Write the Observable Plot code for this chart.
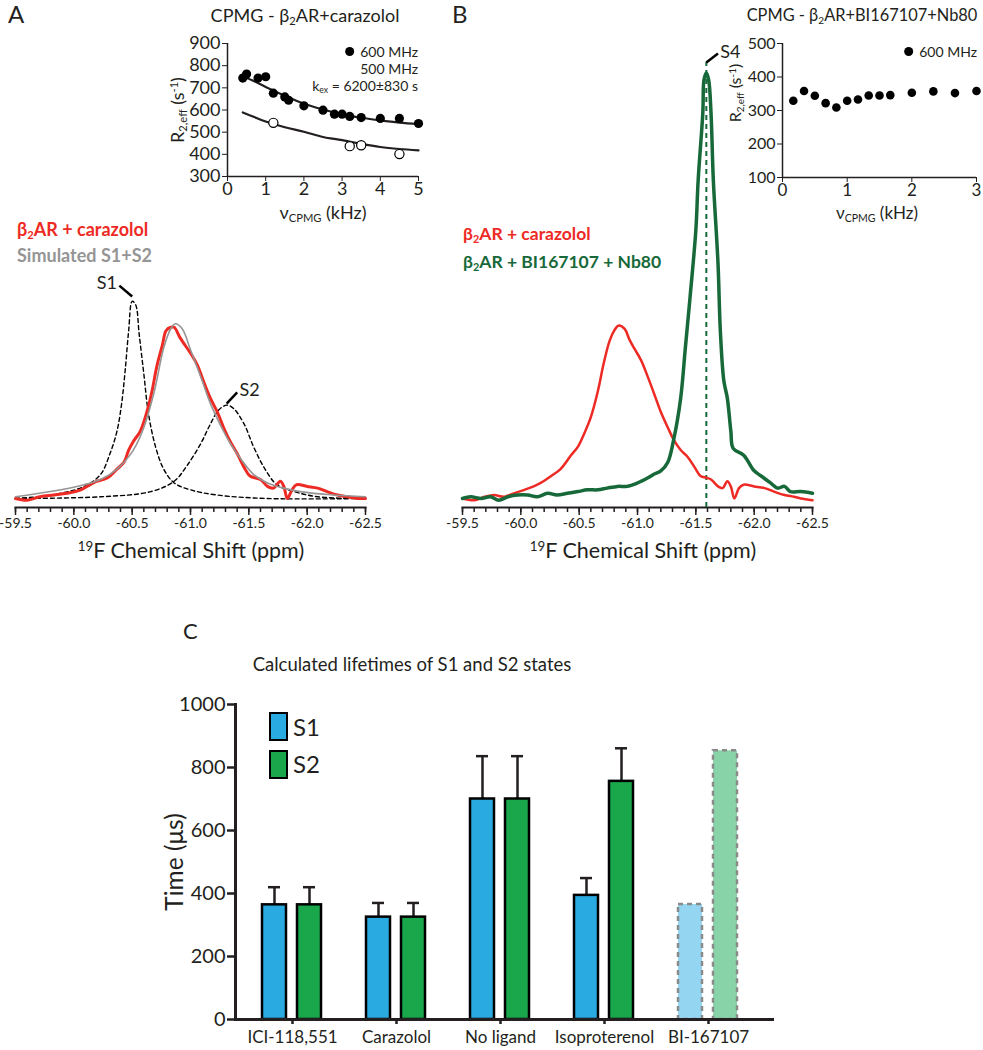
<!DOCTYPE html>
<html><head><meta charset="utf-8">
<script src="https://cdn.jsdelivr.net/npm/d3@7"></script>
<script src="https://cdn.jsdelivr.net/npm/@observablehq/plot@0.6"></script>
<style>
body{margin:0;background:#fff;font-family:Lato,"Open Sans",sans-serif;color:#231f20;}
#fig{position:relative;width:983px;height:1050px;overflow:hidden;background:#fff;}
.abs{position:absolute;white-space:nowrap;line-height:1;}
.box{position:absolute;}
.box svg{overflow:visible;}
sub{font-size:.62em;position:relative;top:.28em;vertical-align:baseline;}
sup{font-size:.62em;position:relative;top:-.5em;vertical-align:baseline;}
.dot{display:inline-block;width:9px;height:9px;border-radius:50%;background:#000;margin-right:6px;vertical-align:1px;}
.sq{position:absolute;border:2.5px solid #000;box-sizing:border-box;}
</style></head><body><div id="fig"></div>
<script>
// ---------- Panel A inset: CPMG beta2AR + carazolol ----------
const cpmgA600Nu = [0.4,0.5,0.8,1.0,1.2,1.5,1.6,2.0,2.5,2.8,3.0,3.2,3.5,4.0,4.5,5.0];
const cpmgA600R2 = [744,762,744,750,676,659,644,619,599,581,581,571,566,562,562,539];
const cpmgA500Nu = [1.2,3.2,3.5,4.5];
const cpmgA500R2 = [542,437,441,401];
const fitA600Nu = [0.4,0.7,1.0,1.5,2.0,2.5,3.0,3.5,4.0,4.5,5.0];
const fitA600R2 = [751,730,704,664,628,602,580,565,553,543,536];
const fitA500Nu = [0.4,0.7,1.0,1.5,2.0,2.5,3.0,3.5,4.0,4.5,5.0];
const fitA500R2 = [589,568,548,522,502,478,464,447,433,424,418];
const insetAxTicks = [0,1,2,3,4,5];
const insetAyTicks = [300,400,500,600,700,800,900];

// ---------- Panel B inset: CPMG beta2AR + BI167107 + Nb80 ----------
const cpmgBNu = [0.167,0.333,0.5,0.667,0.833,1.0,1.167,1.333,1.5,1.667,2.0,2.333,2.667,3.0];
const cpmgBR2 = [329,358,344,322,309,329,333,345,345,346,353,357,352,358];
const insetBxTicks = [0,1,2,3];
const insetByTicks = [100,200,300,400,500];

// ---------- Panel A spectra ----------
const specARedPpm = [-59.50,-59.60,-59.71,-59.83,-59.94,-60.06,-60.14,-60.20,-60.29,-60.37,-60.43,-60.47,-60.51,-60.57,-60.63,-60.67,-60.71,-60.76,-60.79,-60.83,-60.86,-60.91,-60.97,-61.01,-61.06,-61.11,-61.17,-61.23,-61.29,-61.34,-61.40,-61.46,-61.51,-61.60,-61.66,-61.71,-61.77,-61.80,-61.83,-61.87,-61.91,-62.00,-62.09,-62.17,-62.26,-62.34,-62.43,-62.50];
const specARedInt = [0.00,-0.01,0.01,0.02,0.03,0.05,0.08,0.10,0.12,0.17,0.21,0.28,0.33,0.39,0.51,0.62,0.76,0.89,0.97,0.99,0.99,0.93,0.87,0.83,0.77,0.68,0.58,0.50,0.40,0.33,0.26,0.18,0.13,0.11,0.07,0.06,0.10,0.07,0.00,0.05,0.08,0.07,0.06,0.04,0.02,0.01,0.00,0.00];
const specASimPpm = [-59.50,-59.80,-60.09,-60.23,-60.37,-60.51,-60.60,-60.69,-60.77,-60.83,-60.87,-60.93,-61.00,-61.09,-61.17,-61.26,-61.34,-61.43,-61.54,-61.66,-61.80,-61.94,-62.23,-62.50];
const specASimInt = [0.01,0.04,0.08,0.11,0.17,0.28,0.41,0.62,0.87,0.98,1.01,0.98,0.86,0.70,0.55,0.42,0.32,0.23,0.14,0.09,0.06,0.04,0.02,0.01];
const specAS1Ppm = [-59.50,-59.80,-60.09,-60.23,-60.31,-60.37,-60.41,-60.44,-60.47,-60.50,-60.53,-60.56,-60.60,-60.64,-60.70,-60.77,-60.86,-61.00,-61.23,-61.66,-62.50];
const specAS1Int = [0.00,0.02,0.07,0.14,0.26,0.39,0.55,0.74,0.97,1.14,1.12,0.95,0.72,0.49,0.30,0.17,0.09,0.05,0.02,0.00,0.00];
const specAS2Ppm = [-59.50,-60.23,-60.66,-60.86,-60.97,-61.09,-61.17,-61.24,-61.31,-61.37,-61.46,-61.54,-61.63,-61.74,-61.89,-62.09,-62.50];
const specAS2Int = [0.00,0.01,0.04,0.10,0.19,0.32,0.43,0.51,0.54,0.52,0.43,0.30,0.18,0.08,0.04,0.01,0.00];

// ---------- Panel B spectra ----------
const specBRedPpm = [-59.50,-59.60,-59.69,-59.77,-59.86,-59.94,-60.03,-60.11,-60.17,-60.26,-60.34,-60.43,-60.49,-60.54,-60.60,-60.66,-60.71,-60.76,-60.80,-60.84,-60.89,-60.93,-60.97,-61.03,-61.09,-61.14,-61.20,-61.26,-61.31,-61.37,-61.43,-61.49,-61.54,-61.59,-61.63,-61.69,-61.73,-61.77,-61.80,-61.83,-61.87,-61.91,-62.00,-62.09,-62.17,-62.26,-62.34,-62.40,-62.50];
const specBRedInt = [0.00,-0.01,0.01,0.02,0.01,0.03,0.05,0.07,0.09,0.13,0.17,0.25,0.30,0.37,0.47,0.62,0.78,0.91,0.97,1.00,0.98,0.92,0.87,0.80,0.70,0.61,0.50,0.41,0.34,0.28,0.24,0.18,0.13,0.12,0.11,0.07,0.06,0.10,0.07,0.00,0.06,0.08,0.07,0.06,0.04,0.02,0.01,0.00,-0.01];
const specBGreenPpm = [-59.50,-59.57,-59.66,-59.74,-59.81,-59.89,-59.97,-60.06,-60.14,-60.23,-60.31,-60.40,-60.49,-60.57,-60.66,-60.74,-60.83,-60.91,-61.00,-61.09,-61.14,-61.20,-61.26,-61.31,-61.37,-61.41,-61.45,-61.50,-61.52,-61.56,-61.57,-61.59,-61.61,-61.63,-61.65,-61.69,-61.71,-61.74,-61.77,-61.80,-61.82,-61.91,-62.00,-62.06,-62.14,-62.20,-62.26,-62.31,-62.40,-62.50];
const specBGreenInt = [0.00,0.01,0.00,0.01,-0.01,0.01,0.02,0.02,0.01,0.03,0.02,0.03,0.04,0.05,0.05,0.06,0.07,0.07,0.09,0.12,0.14,0.16,0.21,0.34,0.58,0.87,1.16,1.55,1.84,2.23,2.42,2.46,2.42,2.23,1.84,1.36,0.97,0.68,0.58,0.39,0.29,0.25,0.16,0.13,0.09,0.06,0.07,0.04,0.04,0.03];

// annotations (ppm, intensity)
const annA = [{t:"S1", x:-60.37, y:1.243, a:"end", x1:-60.39, y1:1.231, x2:-60.50, y2:1.168},
              {t:"S2", x:-61.42, y:0.624, a:"start", x1:-61.31, y1:0.549, x2:-61.40, y2:0.613}];
const annB = [{t:"S4", x:-61.71, y:2.578, a:"start", x1:-61.59, y1:2.52, x2:-61.69, y2:2.572}];
const s4Ppm = -61.59;

const ppmMajor = [-59.5,-60.0,-60.5,-61.0,-61.5,-62.0,-62.5];

// ---------- Panel C ----------
const groups = ["ICI-118,551","Carazolol","No ligand","Isoproterenol","BI-167107"];
const s1Time = [364,325,700,394,365];
const s1Err  = [56,45,136,55,null];
const s2Time = [364,325,700,756,853];
const s2Err  = [56,45,136,105,null];
const timeTicks = [0,200,400,600,800,1000];

// ================= drawing =================
const fig = document.getElementById("fig");
const FONT = "Lato, 'Open Sans', sans-serif";
const RED = "#ee2a24", GREEN = "#17693a", GRAY = "#959595";
const intFmt = d => String(d);

function place(svg, left, top, w) {
  const d = document.createElement("div");
  d.className = "box"; d.style.left = left+"px"; d.style.top = top+"px"; d.style.width = w+"px";
  d.appendChild(svg); fig.appendChild(d);
}
function txt(html, x, y, o={}) {
  const d = document.createElement("div");
  d.className = "abs"; d.innerHTML = html;
  d.style.left = x+"px"; d.style.top = y+"px";
  d.style.fontSize = (o.size||16)+"px"; d.style.color = o.color||"#231f20";
  d.style.fontWeight = o.weight||400;
  const a = o.anchor||"middle";
  const tx = a==="middle"?"-50%":a==="end"?"-100%":"0";
  d.style.transform = `translate(${tx},-50%)` + (o.rotate?` rotate(${o.rotate}deg)`:"");
  fig.appendChild(d);
}
const zip = (xs, ys) => xs.map((x,i)=>({x, y: ys[i]}));
const svgStyle = {fontFamily: FONT, background: "transparent", overflow: "visible", color: "#231f20"};

// ---- spectrum builder
function spectrum({w, h, ml, mr, mb, ytop, curves, ann, extra=[]}) {
  const minor = d3.range(0,31).map(i => +(-59.5 - i*0.1).toFixed(1));
  return Plot.plot({
    width: w, height: h, marginLeft: ml, marginRight: mr, marginTop: 0, marginBottom: mb,
    style: svgStyle,
    x: {domain: [-59.5, -62.5]},
    y: {domain: [-0.052, ytop], axis: null},
    marks: [
      Plot.frame({anchor: "bottom", strokeWidth: 2}),
      Plot.axisX({ticks: minor, tickSize: 5, strokeWidth: 1.5, tickFormat: () => "", label: null}),
      Plot.axisX({ticks: ppmMajor, tickSize: 8, strokeWidth: 1.5, tickPadding: 3, fontSize: 14, tickFormat: d => d.toFixed(1), label: null}),
      ...extra,
      ...curves.map(c => Plot.line(c.data, {x:"x", y:"y", stroke:c.stroke, strokeWidth:c.sw, strokeDasharray:c.dash, curve:"catmull-rom"})),
      Plot.link(ann, {x1:"x1", y1:"y1", x2:"x2", y2:"y2", stroke:"#000", strokeWidth:2.5}),
      Plot.text(ann.filter(d=>d.a==="end"), {x:"x", y:"y", text:"t", textAnchor:"end", fontSize:18}),
      Plot.text(ann.filter(d=>d.a==="start"), {x:"x", y:"y", text:"t", textAnchor:"start", fontSize:18})
    ]
  });
}

// Panel A spectrum
place(spectrum({w:440, h:300, ml:15, mr:75, mb:53, ytop:1.376, ann: annA, curves: [
  {data: zip(specAS1Ppm, specAS1Int), stroke:"#000", sw:1.4, dash:"4,3"},
  {data: zip(specAS2Ppm, specAS2Int), stroke:"#000", sw:1.4, dash:"4,3"},
  {data: zip(specARedPpm, specARedInt), stroke:RED, sw:3},
  {data: zip(specASimPpm, specASimInt), stroke:GRAY, sw:1.6}
]}), 0, 260, 440);

// Panel B spectrum
place(spectrum({w:400, h:530, ml:22, mr:28, mb:53, ytop:2.705, ann: annB,
  extra: [Plot.ruleX([s4Ppm], {y1:-0.052, y2:2.52, stroke:GREEN, strokeWidth:2, strokeDasharray:"5,4"})],
  curves: [
  {data: zip(specBRedPpm, specBRedInt), stroke:RED, sw:2.5},
  {data: zip(specBGreenPpm, specBGreenInt), stroke:GREEN, sw:3.5}
]}), 440, 30, 400);

// Inset A
place(Plot.plot({
  width: 290, height: 230, marginLeft: 77, marginRight: 22, marginTop: 43, marginBottom: 54,
  style: svgStyle,
  x: {domain: [0,5]}, y: {domain: [300,900]},
  marks: [
    Plot.ruleX([0], {strokeWidth: 1.5}),
    Plot.ruleY([300], {strokeWidth: 1.5}),
    Plot.axisX({ticks: insetAxTicks, tickSize: 5, tickPadding: 1, fontSize: 18, tickFormat: intFmt, label: null}),
    Plot.axisY({ticks: insetAyTicks, tickSize: 5, tickPadding: 2, fontSize: 18, tickFormat: intFmt, label: null}),
    Plot.line(zip(fitA600Nu, fitA600R2), {x:"x", y:"y", strokeWidth: 2.2, curve: "catmull-rom"}),
    Plot.line(zip(fitA500Nu, fitA500R2), {x:"x", y:"y", strokeWidth: 2.2, curve: "catmull-rom"}),
    Plot.dot(zip(cpmgA600Nu, cpmgA600R2), {x:"x", y:"y", r: 4.6, fill: "#000"}),
    Plot.dot(zip(cpmgA500Nu, cpmgA500R2), {x:"x", y:"y", r: 4.6, fill: "#fff", stroke: "#000", strokeWidth: 1.2})
  ]
}), 150, 0, 290);

// Inset B
place(Plot.plot({
  width: 283, height: 230, marginLeft: 82, marginRight: 7, marginTop: 43, marginBottom: 53,
  style: svgStyle,
  x: {domain: [0,3]}, y: {domain: [100,500]},
  marks: [
    Plot.ruleX([0], {strokeWidth: 1.5}),
    Plot.ruleY([100], {strokeWidth: 1.5}),
    Plot.axisX({ticks: insetBxTicks, tickSize: 5, tickPadding: 1, fontSize: 17, tickFormat: intFmt, label: null}),
    Plot.axisY({ticks: insetByTicks, tickSize: 5, tickPadding: 2, fontSize: 16, tickFormat: intFmt, label: null}),
    Plot.dot(zip(cpmgBNu, cpmgBR2), {x:"x", y:"y", r: 4.3, fill: "#000"})
  ]
}), 700, 0, 283);

// Panel C
const rowsC = groups.map((g,i)=>({group:g, s1:s1Time[i], s1e:s1Err[i], s2:s2Time[i], s2e:s2Err[i]}));
const meas = rowsC.filter(d => d.s1e != null);
const est = rowsC.filter(d => d.s1e == null);
place(Plot.plot({
  width: 700, height: 360, marginLeft: 135, marginRight: 28, marginTop: 14, marginBottom: 31,
  style: svgStyle,
  x: {type: "band", domain: groups, range: [140, 660], padding: 0},
  y: {domain: [0, 1000]},
  marks: [
    Plot.ruleX(meas, {x:"group", y1:"s1", y2: d=>d.s1+d.s1e, dx:-18, strokeWidth:2.5}),
    Plot.ruleX(meas, {x:"group", y1:"s2", y2: d=>d.s2+d.s2e, dx:17, strokeWidth:2.5}),
    Plot.tickY(meas, {x:"group", y: d=>d.s1+d.s1e, insetLeft:28, insetRight:64, strokeWidth:2.5}),
    Plot.tickY(meas, {x:"group", y: d=>d.s2+d.s2e, insetLeft:63, insetRight:29, strokeWidth:2.5}),
    Plot.barY(meas, {x:"group", y:"s1", fill:"#29abe2", stroke:"#000", strokeWidth:2.5, insetLeft:22, insetRight:58}),
    Plot.barY(meas, {x:"group", y:"s2", fill:"#1aa64b", stroke:"#000", strokeWidth:2.5, insetLeft:57, insetRight:23}),
    Plot.barY(est, {x:"group", y:"s1", fill:"#94d5f1", stroke:"#8a8a8a", strokeWidth:2.5, strokeDasharray:"5,4", insetLeft:22, insetRight:58}),
    Plot.barY(est, {x:"group", y:"s2", fill:"#88d4a8", stroke:"#8a8a8a", strokeWidth:2.5, strokeDasharray:"5,4", insetLeft:57, insetRight:23}),
    Plot.frame({anchor: "left", strokeWidth: 3}),
    Plot.frame({anchor: "bottom", strokeWidth: 3}),
    Plot.axisY({ticks: timeTicks, tickSize: 8, strokeWidth: 2.5, tickPadding: 2, fontSize: 20, tickFormat: intFmt, label: null}),
    Plot.axisX({tickSize: 5, strokeWidth: 2.5, tickPadding: 6, fontSize: 17, label: null})
  ]
}), 100, 690, 700);

// ---------- text ----------
txt("A", 8, 14, {size: 24, anchor: "start"});
txt("B", 452, 14, {size: 24, anchor: "start"});
txt("C", 183, 631, {size: 22, anchor: "start"});

txt("CPMG - β<sub>2</sub>AR+carazolol", 305, 15, {size: 18});
txt("<span class='dot'></span>600 MHz", 418, 52, {size: 14, anchor: "end"});
txt("500 MHz", 418, 69, {size: 14, anchor: "end"});
txt("k<sub>ex</sub> = 6200±830 s", 418, 86, {size: 14, anchor: "end"});
txt("R<sub>2,eff</sub> (s<sup>-1</sup>)", 177, 110, {size: 18, rotate: -90});
txt("ν<sub>CPMG</sub> (kHz)", 323, 212, {size: 18});

txt("CPMG - β<sub>2</sub>AR+BI167107+Nb80", 862, 15, {size: 16.4});
txt("<span class='dot'></span>600 MHz", 977, 52, {size: 14, anchor: "end"});
txt("R<sub>2,eff</sub> (s<sup>-1</sup>)", 735, 93, {size: 16, rotate: -90});
txt("ν<sub>CPMG</sub> (kHz)", 877, 212, {size: 17});

txt("β<sub>2</sub>AR + carazolol", 17, 229, {size: 18, weight: 700, color: RED, anchor: "start"});
txt("Simulated S1+S2", 17, 255, {size: 18, weight: 700, color: GRAY, anchor: "start"});
txt("β<sub>2</sub>AR + carazolol", 463, 234, {size: 17.5, weight: 700, color: RED, anchor: "start"});
txt("β<sub>2</sub>AR + BI167107 + Nb80", 463, 262, {size: 17.5, weight: 700, color: GREEN, anchor: "start"});

txt("<sup>19</sup>F Chemical Shift (ppm)", 191, 551, {size: 21.5});
txt("<sup>19</sup>F Chemical Shift (ppm)", 643, 551, {size: 21.5});

txt("Calculated lifetimes of S1 and S2 states", 412, 664, {size: 18.5});
txt("Time (μs)", 174, 862, {size: 24.5, rotate: -90});

// legend C
function sq(x, y, w, h, fill) { const d = document.createElement("div"); d.className = "sq";
  d.style.left = x+"px"; d.style.top = y+"px"; d.style.width = w+"px"; d.style.height = h+"px"; d.style.background = fill; fig.appendChild(d); }
sq(269, 712, 19, 29, "#29abe2");
sq(269, 750, 19, 29, "#1aa64b");
txt("S1", 293, 727, {size: 24, anchor: "start"});
txt("S2", 293, 764, {size: 24, anchor: "start"});
</script></body></html>
